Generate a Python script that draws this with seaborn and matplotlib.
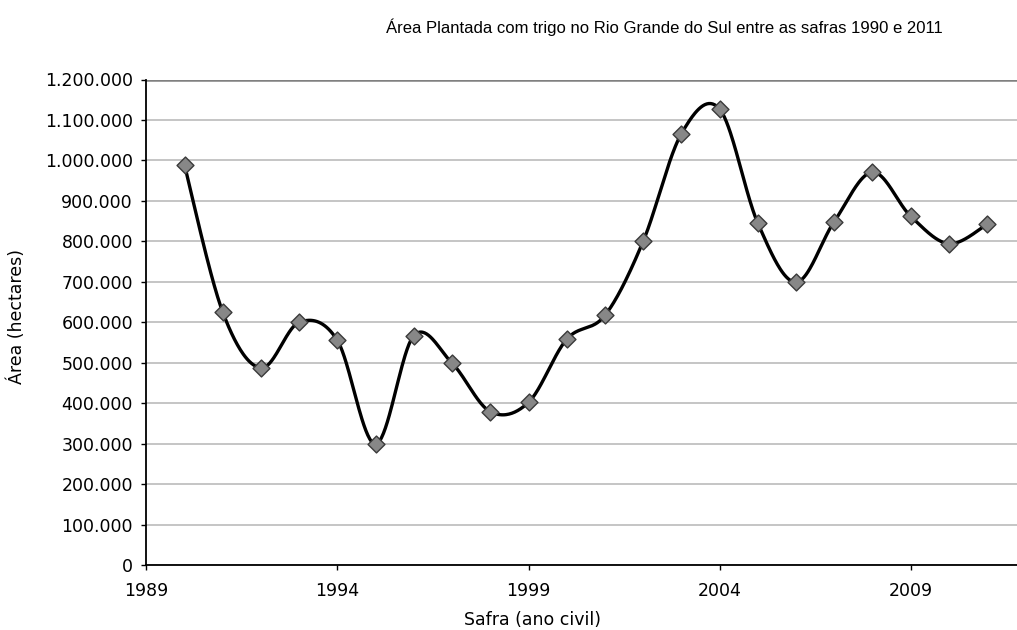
import numpy as np
import pandas as pd
import matplotlib
matplotlib.use("Agg")
import matplotlib.pyplot as plt
from matplotlib.ticker import FuncFormatter, MultipleLocator, FixedLocator
import seaborn as sns

# Data
years = [1990, 1991, 1992, 1993, 1994, 1995, 1996, 1997, 1998, 1999, 2000,
         2001, 2002, 2003, 2004, 2005, 2006, 2007, 2008, 2009, 2010, 2011]
area = [988000, 625000, 487000, 600000, 555000, 299000, 567000, 499000, 379000, 402000, 558000,
        617000, 800000, 1066000, 1127000, 845000, 699000, 849000, 971000, 862000, 794000, 842000]
xticks = [1989, 1994, 1999, 2004, 2009]

title = "Área Plantada com trigo no Rio Grande do Sul entre as safras 1990 e 2011"
xlabel = "Safra (ano civil)"
ylabel = "Área (hectares)"

sns.set_theme(style="white")
plt.rcParams['font.family'] = ['DejaVu Sans']

fig = plt.figure(figsize=(10.17, 6.30), dpi=100)
ax = fig.add_axes([146.3 / 1017, 1 - 565 / 630, 1 - 146.3 / 1017, (565 - 79.5) / 630])

# Excel-style smoothed line (Bezier through points, Catmull-Rom control points)
x = np.array(years, dtype=float)
y = np.array(area, dtype=float)
n = len(x)
sx, sy = [], []
t = np.linspace(0, 1, 40)
for i in range(n - 1):
    p0 = np.array([x[i], y[i]])
    p3 = np.array([x[i + 1], y[i + 1]])
    pm = np.array([x[i - 1], y[i - 1]]) if i > 0 else p0
    pp = np.array([x[i + 2], y[i + 2]]) if i + 2 < n else p3
    c1 = p0 + (p3 - pm) / 6.0
    c2 = p3 - (pp - p0) / 6.0
    seg = ((1 - t) ** 3)[:, None] * p0 + (3 * (1 - t) ** 2 * t)[:, None] * c1 \
        + (3 * (1 - t) * t ** 2)[:, None] * c2 + (t ** 3)[:, None] * p3
    sx.extend(seg[:, 0]); sy.extend(seg[:, 1])
curve = pd.DataFrame({"x": sx, "y": sy})
pts = pd.DataFrame({"Safra": years, "Area": area})

sns.lineplot(data=curve, x="x", y="y", sort=False, estimator=None, color="black",
             linewidth=2.4, ax=ax, zorder=3)
sns.scatterplot(data=pts, x="Safra", y="Area", marker="D", s=74, color="#878787",
                edgecolor="#3a3a3a", linewidth=1.0, ax=ax, zorder=4)

ax.set_xlim(1989, 1989 + (1017 - 146.3) / 38.22)
ax.set_ylim(0, 1200000)
ax.xaxis.set_major_locator(FixedLocator(xticks))
ax.yaxis.set_major_locator(MultipleLocator(100000))
ax.yaxis.set_major_formatter(FuncFormatter(lambda v, p: f"{int(round(v)):,}".replace(",", ".")))
ax.xaxis.set_major_formatter(FuncFormatter(lambda v, p: f"{int(round(v))}"))

ax.grid(axis="y", color="#c0c0c0", linewidth=1.3)
ax.grid(axis="x", visible=False)
ax.set_axisbelow(True)
for s in ["top", "right"]:
    ax.spines[s].set_visible(False)
for s in ["left", "bottom"]:
    ax.spines[s].set_color("black")
    ax.spines[s].set_linewidth(1.3)
ax.axhline(1200000, color="#808080", linewidth=1.8, zorder=1)

ax.tick_params(axis="both", which="major", direction="out", length=3.6, width=1,
               color="black", labelsize=12.5, labelcolor="black", left=True, bottom=True)
ax.tick_params(axis="x", pad=9)
ax.tick_params(axis="y", pad=6)
ax.set_xlabel("")
ax.set_ylabel("")

fig.text(664 / 1017, 1 - 27 / 630, title, ha="center", va="center", fontsize=12,
         family=["Liberation Sans Narrow", "Liberation Sans"], color="black")
fig.text(533 / 1017, 1 - 620 / 630, xlabel, ha="center", va="center", fontsize=12.5, color="black")
fig.text(17 / 1017, 1 - 317 / 630, ylabel, ha="center", va="center", fontsize=12.5,
         rotation=90, color="black")

fig.savefig("out.png", dpi=100)
